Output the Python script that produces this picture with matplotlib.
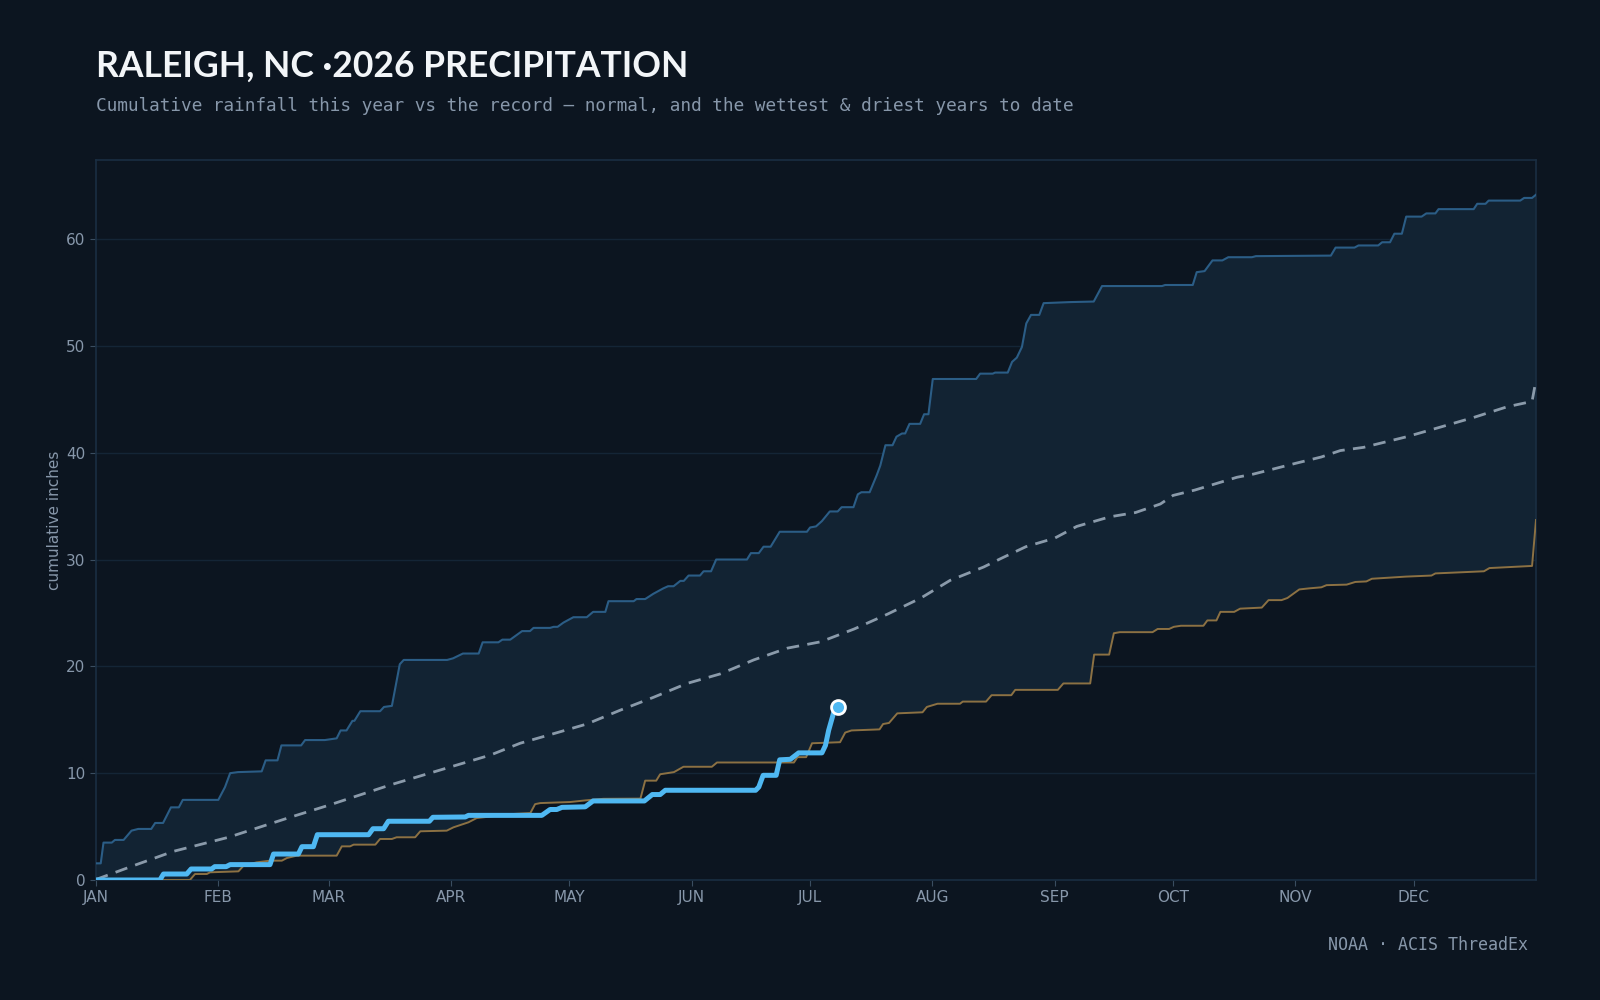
import numpy as np
import matplotlib
matplotlib.use("Agg")
import matplotlib.pyplot as plt

# ---- data (day of year, cumulative inches) ----
month_days = [0, 31, 59, 90, 120, 151, 181, 212, 243, 273, 304, 334]
month_labels = ["JAN", "FEB", "MAR", "APR", "MAY", "JUN", "JUL", "AUG", "SEP", "OCT", "NOV", "DEC"]

wettest_days = [0, 1.2, 1.9, 4.0, 4.8, 7, 9, 10.7, 14, 15, 17, 19, 21, 22, 31, 32.7, 34, 36, 42, 43,
                46, 47, 52, 53, 58, 61, 62, 63.5, 65, 65.5, 67, 72, 73, 75, 77, 78, 89, 90.5, 93, 97,
                98, 102, 103, 105, 108, 110, 110.9, 115.1, 116, 117, 118.5, 119.5, 121, 124.4, 126,
                129.1, 129.9, 136.3, 137, 139.2, 141.3, 143.8, 145, 146.4, 148.1, 149, 150.2, 153.1,
                154, 155.9, 157.2, 165, 166, 168, 169.2, 171, 173.3, 180.2, 181, 182.5, 184, 186, 188,
                189, 192, 193.1, 194, 196.1, 197.9, 198.8, 200.1, 201.9, 202.9, 204.3, 205.1, 206.2,
                208.9, 209.9, 211.0, 212.1, 223.1, 224.1, 227.3, 227.9, 231.1, 232.2, 233.4, 234.7,
                235.8, 237.0, 239.1, 240.2, 247, 252.9, 255, 270.2, 271, 278, 279, 281, 283, 285.5,
                287, 293, 294, 313, 314.2, 319, 320, 325, 326, 328, 329.1, 331, 332.1, 336, 337.2,
                339.5, 340.3, 349.2, 350.1, 352.2, 353, 361, 362, 364, 365]
wettest_in = [1.56, 1.56, 3.5, 3.5, 3.75, 3.75, 4.62, 4.78, 4.78, 5.34, 5.34, 6.8, 6.8, 7.5, 7.5, 8.7,
              10.0, 10.1, 10.17, 11.2, 11.2, 12.6, 12.6, 13.1, 13.1, 13.26, 14.0, 14.0, 14.9, 14.9,
              15.8, 15.8, 16.2, 16.3, 20.2, 20.6, 20.6, 20.75, 21.2, 21.2, 22.25, 22.25, 22.5, 22.5,
              23.3, 23.3, 23.6, 23.6, 23.7, 23.7, 24.1, 24.3, 24.6, 24.6, 25.1, 25.1, 26.1, 26.1,
              26.3, 26.3, 26.8, 27.3, 27.5, 27.5, 28.0, 28.0, 28.5, 28.5, 28.9, 28.9, 30.0, 30.0,
              30.6, 30.6, 31.2, 31.2, 32.6, 32.6, 33.0, 33.1, 33.6, 34.5, 34.5, 34.9, 34.9, 36.1,
              36.3, 36.3, 37.9, 38.8, 40.7, 40.7, 41.5, 41.8, 41.8, 42.7, 42.7, 43.6, 43.6, 46.9,
              46.9, 47.4, 47.4, 47.5, 47.5, 48.5, 48.9, 49.9, 52.1, 52.9, 52.9, 54.0, 54.1, 54.15,
              55.6, 55.6, 55.7, 55.7, 56.9, 57.0, 58.0, 58.0, 58.3, 58.3, 58.4, 58.45, 59.2, 59.2,
              59.4, 59.4, 59.7, 59.7, 60.5, 60.5, 62.1, 62.1, 62.4, 62.4, 62.8, 62.8, 63.3, 63.3,
              63.6, 63.6, 63.85, 63.85, 64.15]

driest_days = [0, 23.8, 25.1, 28.1, 28.9, 36.1, 37.4, 40.7, 44.1, 47.1, 48.4, 50.9, 61.0, 62.3, 64.4,
               65.3, 70.8, 72.0, 75.0, 76.2, 80.9, 82.2, 88.9, 90.6, 91.9, 94.4, 96.5, 105.8, 110.1,
               111.3, 112.6, 120.2, 124, 128.6, 138, 139.2, 142, 143, 146.5, 148.9, 156.1, 157.4,
               176.9, 177.8, 180, 181.5, 188.6, 189.9, 191.5, 198.6, 199.5, 201, 203.1, 209.5, 210.6,
               213.3, 219, 219.7, 225.6, 227, 232, 233, 243.8, 245.2, 252, 253, 256.8, 258, 259.5,
               267.8, 269.1, 272, 273.2, 275, 280.7, 281.7, 284, 285, 288.5, 290, 295.5, 297.2,
               300.5, 302, 305, 307.5, 310.6, 311.9, 317, 319.2, 322, 323.4, 332, 338.5, 339.5,
               351.8, 353.2, 364, 365]
driest_in = [0, 0, 0.56, 0.56, 0.72, 0.81, 1.34, 1.65, 1.81, 1.81, 2.06, 2.28, 2.28, 3.15, 3.15, 3.31,
             3.31, 3.84, 3.84, 4.0, 4.0, 4.56, 4.62, 4.93, 5.09, 5.4, 5.8, 6.18, 6.27, 7.1, 7.2, 7.3,
             7.45, 7.6, 7.62, 9.3, 9.3, 9.9, 10.1, 10.6, 10.6, 11.0, 11.0, 11.5, 11.5, 12.8, 12.9,
             13.8, 14.0, 14.1, 14.6, 14.7, 15.6, 15.7, 16.2, 16.5, 16.5, 16.7, 16.7, 17.3, 17.3,
             17.8, 17.8, 18.4, 18.4, 21.1, 21.1, 23.1, 23.2, 23.2, 23.5, 23.5, 23.7, 23.8, 23.8,
             24.3, 24.3, 25.1, 25.1, 25.4, 25.5, 26.2, 26.2, 26.4, 27.2, 27.3, 27.4, 27.6, 27.65,
             27.9, 27.95, 28.2, 28.4, 28.5, 28.7, 28.9, 29.2, 29.4, 33.7]

normal_days = [0, 9.5, 19.6, 33.6, 49.2, 59, 74.6, 90, 100, 107.5, 116, 124.4, 132.9, 141.3, 149.8,
               158.3, 166.7, 175.2, 183.7, 192.2, 200.7, 209.1, 216.5, 225, 229.4, 235.7, 243, 248.6,
               257, 263.5, 269.8, 273, 278.5, 289.2, 293.4, 304, 310.6, 315.4, 321.3, 332.3, 340.8,
               349.2, 357.7, 364, 365]
normal_in = [0.05, 1.34, 2.68, 4.0, 5.87, 7.0, 8.9, 10.6, 11.7, 12.8, 13.7, 14.6, 15.9, 17.1, 18.4,
             19.3, 20.6, 21.7, 22.3, 23.5, 24.9, 26.4, 28.05, 29.3, 30.1, 31.2, 32.0, 33.1, 34.0,
             34.4, 35.2, 36.0, 36.5, 37.7, 38.0, 39.0, 39.6, 40.2, 40.5, 41.5, 42.4, 43.3, 44.3,
             44.8, 46.8]

this_year_days = [0, 16.2, 17.1, 23, 24.1, 29.3, 30.1, 33, 34, 44.1, 45, 51.3, 52.2, 55.1, 56.1, 69.1,
                  70.2, 72.9, 74.1, 84.5, 85.4, 93.6, 94.4, 113, 115.1, 116.8, 118.1, 124, 126, 139,
                  141, 143, 144.3, 167.2, 168, 169.1, 172.4, 173.3, 176, 178.1, 184.0, 184.9, 185.7,
                  187, 188]
this_year_in = [0, 0, 0.56, 0.56, 1.03, 1.03, 1.25, 1.25, 1.44, 1.44, 2.43, 2.43, 3.12, 3.12, 4.24,
                4.24, 4.8, 4.8, 5.5, 5.5, 5.87, 5.9, 6.05, 6.05, 6.6, 6.6, 6.8, 6.85, 7.4, 7.4, 8.0,
                8.0, 8.4, 8.4, 8.7, 9.8, 9.8, 11.25, 11.3, 11.9, 11.9, 12.6, 14.0, 15.7, 16.2]

# ---- style ----
bg = "#0c1520"
muted = "#8797aa"

fig = plt.figure(figsize=(16, 10), dpi=100, facecolor=bg)
ax = fig.add_axes([0.06, 0.12, 0.90, 0.72], facecolor=bg)

# band between record driest and wettest
ax.fill(np.r_[wettest_days, driest_days[::-1]], np.r_[wettest_in, driest_in[::-1]],
        color="#122333", lw=0, zorder=1)

ax.plot(wettest_days, wettest_in, color="#2b5d86", lw=1.5, zorder=3)
ax.plot(driest_days, driest_in, color="#8c7143", lw=1.4, zorder=3)
ax.plot(normal_days, normal_in, color="#8a9aaa", lw=2, dashes=(4.5, 3), zorder=4)
ax.plot(this_year_days, this_year_in, color="#4fb8f2", lw=3.6, zorder=5,
        solid_joinstyle="round", solid_capstyle="round")
ax.plot(this_year_days[-1], this_year_in[-1], "o", ms=10, color="#4fb8f2",
        markeredgecolor="white", markeredgewidth=2, zorder=6)

ax.set_xlim(0, 365)
ax.set_ylim(0, 67.4)
ax.set_xticks(month_days)
ax.set_xticklabels(month_labels)
ax.set_yticks([0, 10, 20, 30, 40, 50, 60])
ax.grid(axis="y", color="#142536", lw=1)
ax.set_axisbelow(True)
ax.tick_params(colors=muted, labelsize=11, length=4, color="#3a4d60")
for s in ax.spines.values():
    s.set_color("#1a2e42")
    s.set_linewidth(1.2)
ax.set_ylabel("cumulative inches", color=muted, fontsize=11, labelpad=3)

fig.text(0.06, 0.9235, "RALEIGH, NC ·2026 PRECIPITATION", color="#f2f5f8",
         fontsize=25.6, fontweight="bold", family="Lato", va="baseline")
fig.text(0.06, 0.889, "Cumulative rainfall this year vs the record \u2014 normal, and the wettest & driest years to date",
         color=muted, fontsize=12.75, family="DejaVu Sans Mono", va="baseline")
fig.text(0.955, 0.050, "NOAA \u00b7 ACIS ThreadEx", color=muted, fontsize=12,
         family="DejaVu Sans Mono", ha="right", va="baseline")

fig.savefig("out.png", dpi=100, facecolor=bg)
